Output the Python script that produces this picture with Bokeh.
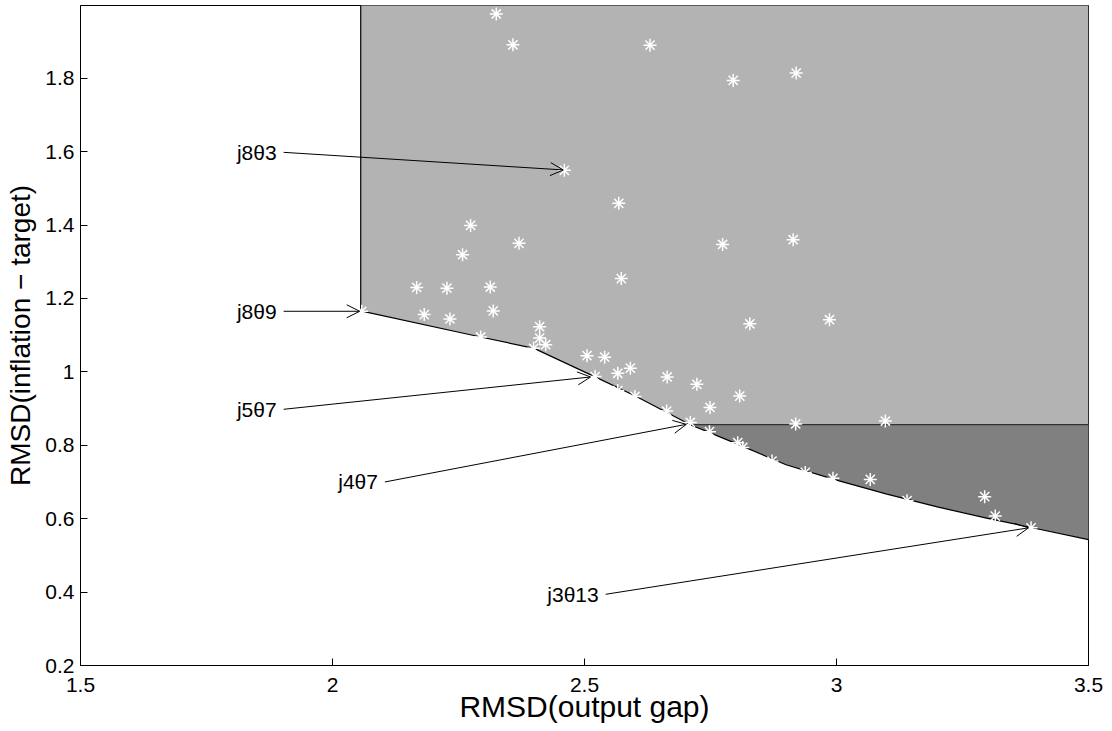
from bokeh.plotting import figure
from bokeh.models import Range1d, FixedTicker, Arrow, OpenHead, ColumnDataSource
from bokeh.core.properties import value
from bokeh.embed import file_html
from bokeh.resources import INLINE

# ---------------- data ----------------
x_ticks = [1.5, 2, 2.5, 3, 3.5]
y_ticks = [0.2, 0.4, 0.6, 0.8, 1.0, 1.2, 1.4, 1.6, 1.8]

# efficiency frontier
frontier_x = [2.056, 2.294, 2.400, 2.520, 2.600, 2.710, 2.800, 2.900, 3.000, 3.100, 3.200, 3.300, 3.386, 3.500]
frontier_y = [1.166, 1.095, 1.064, 0.987, 0.935, 0.856, 0.805, 0.747, 0.705, 0.667, 0.632, 0.601, 0.576, 0.543]
threshold_y = 0.856

# rule outcomes (asterisks)
points_x = [2.325, 2.358, 2.630, 2.795, 2.920, 2.460, 2.568, 2.274, 2.370, 2.258,
            2.167, 2.227, 2.313, 2.182, 2.233, 2.319, 2.411, 2.411, 2.423, 2.294,
            2.399, 2.573, 2.774, 2.914, 2.828, 2.986, 2.058, 2.505, 2.540, 2.521,
            2.566, 2.591, 2.566, 2.600, 2.664, 2.723, 2.663, 2.749, 2.808, 2.710,
            2.748, 2.804, 2.814, 2.919, 3.097, 2.872, 2.938, 2.993, 3.067, 3.140,
            3.294, 3.315, 3.386]
points_y = [1.975, 1.891, 1.890, 1.794, 1.814, 1.549, 1.459, 1.399, 1.350, 1.319,
            1.230, 1.228, 1.231, 1.156, 1.144, 1.166, 1.123, 1.092, 1.074, 1.095,
            1.064, 1.254, 1.347, 1.360, 1.131, 1.142, 1.165, 1.044, 1.040, 0.987,
            0.996, 1.010, 0.949, 0.933, 0.986, 0.966, 0.893, 0.903, 0.934, 0.862,
            0.837, 0.807, 0.794, 0.858, 0.866, 0.757, 0.726, 0.710, 0.707, 0.649,
            0.660, 0.607, 0.575]

# annotations
ann_text = ["j8\u03b83", "j8\u03b89", "j5\u03b87", "j4\u03b87", "j3\u03b813"]
ann_start_x = [1.903, 1.903, 1.903, 2.104, 2.542]
ann_start_y = [1.598, 1.165, 0.898, 0.700, 0.394]
ann_end_x = [2.458, 2.054, 2.512, 2.702, 3.381]
ann_end_y = [1.550, 1.165, 0.986, 0.857, 0.575]

x_min, x_max = 1.5, 3.5
y_min, y_max = 0.2, 1.998

FONT = "Liberation Sans"

p = figure(frame_width=1008, frame_height=660, output_backend="svg", toolbar_location=None,
           x_range=Range1d(x_min, x_max), y_range=Range1d(y_min, y_max),
           min_border_left=80, min_border_right=16, min_border_top=5, min_border_bottom=60)
p.grid.visible = False
p.outline_line_color = "black"
p.outline_line_width = 1
p.background_fill_color = "white"

# shaded regions
light_x = list(frontier_x) + [x_max, frontier_x[0]]
light_y = list(frontier_y) + [y_max + 0.5, y_max + 0.5]
p.patch(light_x, light_y, fill_color="#b3b3b3", line_color=None)

i0 = frontier_y.index(threshold_y)
dark_x = frontier_x[i0:] + [x_max]
dark_y = frontier_y[i0:] + [threshold_y]
p.patch(dark_x, dark_y, fill_color="#808080", line_color=None)

# boundary lines
p.line(frontier_x, frontier_y, line_color="black", line_width=1.2)
p.segment(x0=[frontier_x[0]], y0=[frontier_y[0]], x1=[frontier_x[0]], y1=[y_max + 0.5],
          line_color="black", line_width=1.2)
p.segment(x0=[frontier_x[i0]], y0=[threshold_y], x1=[x_max], y1=[threshold_y],
          line_color="#333333", line_width=1.2)

# asterisks
p.scatter(points_x, points_y, marker="asterisk", size=13, line_color="white", line_width=1.5)

# arrows + labels
src = ColumnDataSource(dict(xs=ann_start_x, ys=ann_start_y, xe=ann_end_x, ye=ann_end_y, t=ann_text))
p.add_layout(Arrow(end=OpenHead(size=13, line_width=1, line_color="black"),
                   x_start="xs", y_start="ys", x_end="xe", y_end="ye",
                   source=src, line_width=1, line_color="black"))
p.text(x="xs", y="ys", text="t", source=src, text_align="right", text_baseline="middle",
       x_offset=-7, text_font=value(FONT), text_font_size="21px", text_color="black")

# axes
for ax, ticks in ((p.xaxis[0], x_ticks), (p.yaxis[0], y_ticks)):
    ax.ticker = FixedTicker(ticks=ticks)
    ax.major_label_overrides = {t: format(t, "g") for t in ticks}
    ax.major_tick_in = 7
    ax.major_tick_out = 0
    ax.minor_tick_line_color = None
    ax.axis_line_color = "black"
    ax.major_tick_line_color = "black"
    ax.major_label_text_font = FONT
    ax.major_label_text_font_size = "21px"
    ax.major_label_text_color = "black"
    ax.axis_label_text_font = FONT
    ax.axis_label_text_font_style = "normal"
    ax.axis_label_text_color = "black"

p.xaxis.axis_label = "RMSD(output gap)"
p.yaxis.axis_label = "RMSD(inflation \u2212 target)"
p.xaxis.axis_label_text_font_size = "30px"
p.yaxis.axis_label_text_font_size = "28px"
p.xaxis.major_label_standoff = 12
p.xaxis.axis_label_standoff = -5
p.yaxis.major_label_standoff = 6
p.yaxis.axis_label_standoff = 6

open("out.html", "w").write(file_html(p, INLINE))
